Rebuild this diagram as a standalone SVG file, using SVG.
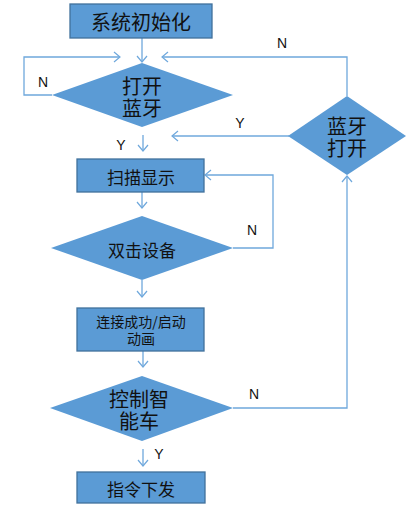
<svg xmlns="http://www.w3.org/2000/svg" width="416" height="518" viewBox="0 0 416 518">
<defs>
<marker id="ah" markerWidth="10" markerHeight="12" refX="9" refY="6" orient="auto" markerUnits="userSpaceOnUse">
<path d="M3,1 L9,6 L3,11" fill="none" stroke="#6FA8DC" stroke-width="1.2"/>
</marker>
<style>
.box{fill:#5B9BD5;stroke:#41719C;stroke-width:1.3}
.dia{fill:#5B9BD5;stroke:none}
.t{font-family:"Noto Sans CJK SC","Liberation Sans",sans-serif;fill:#111;text-anchor:middle;dominant-baseline:central}
.c{fill:none;stroke:#6FA8DC;stroke-width:1.3}
.a{marker-end:url(#ah)}
.lbl{font-family:"Liberation Sans",Arial,sans-serif;font-size:14px;fill:#111;text-anchor:middle;dominant-baseline:central}
</style>
</defs>
<rect width="416" height="518" fill="#fff"/>
<g id="connectors">
<path class="c a" d="M142,38 V62"/>
<path class="c a" d="M52,95 H24 V57 H120"/>
<path class="c a" d="M347,96 V57 H162"/>
<path class="c a" d="M289,136 H172"/>
<path class="c a" d="M143,135 V151"/>
<path class="c a" d="M142,192 V208"/>
<path class="c a" d="M233,248 H273 V175 H205"/>
<path class="c a" d="M142,280 V297"/>
<path class="c a" d="M143,351 V367"/>
<path class="c a" d="M233,408 H347 V176"/>
<path class="c a" d="M143,449 V466"/>
<text class="lbl" x="43" y="82">N</text>
<text class="lbl" x="282" y="43">N</text>
<text class="lbl" x="240" y="123">Y</text>
<text class="lbl" x="121" y="145">Y</text>
<text class="lbl" x="252" y="230">N</text>
<text class="lbl" x="254" y="394">N</text>
<text class="lbl" x="159" y="454">Y</text>
</g>
<g id="init">
<rect class="box" x="70" y="4" width="142" height="34"/>
<text class="t" x="141" y="21" font-size="20">系统初始化</text>
</g>
<g id="open-bt">
<polygon class="dia" points="142,63 233,95 142,127 52,95"/>
<text class="t" font-size="20"><tspan x="142" y="85">打开</tspan><tspan x="142" y="107">蓝牙</tspan></text>
</g>
<g id="bt-open">
<polygon class="dia" points="347,96 406,136 347,175 288,136"/>
<text class="t" font-size="20"><tspan x="347" y="125">蓝牙</tspan><tspan x="347" y="147">打开</tspan></text>
</g>
<g id="scan">
<rect class="box" x="77" y="159" width="127" height="33"/>
<text class="t" x="141" y="176" font-size="17">扫描显示</text>
</g>
<g id="dblclick">
<polygon class="dia" points="142,216 233,248 142,280 51,248"/>
<text class="t" x="142" y="249" font-size="17">双击设备</text>
</g>
<g id="connect">
<rect class="box" x="77" y="308" width="127" height="43"/>
<text class="t" font-size="14"><tspan x="141" y="321">连接成功/启动</tspan><tspan x="141" y="338">动画</tspan></text>
</g>
<g id="control">
<polygon class="dia" points="142,376 233,408 142,441 50,408"/>
<text class="t" font-size="20"><tspan x="139" y="398">控制智</tspan><tspan x="139" y="420">能车</tspan></text>
</g>
<g id="cmd">
<rect class="box" x="77" y="472" width="128" height="31"/>
<text class="t" x="141" y="488" font-size="17">指令下发</text>
</g>
</svg>
